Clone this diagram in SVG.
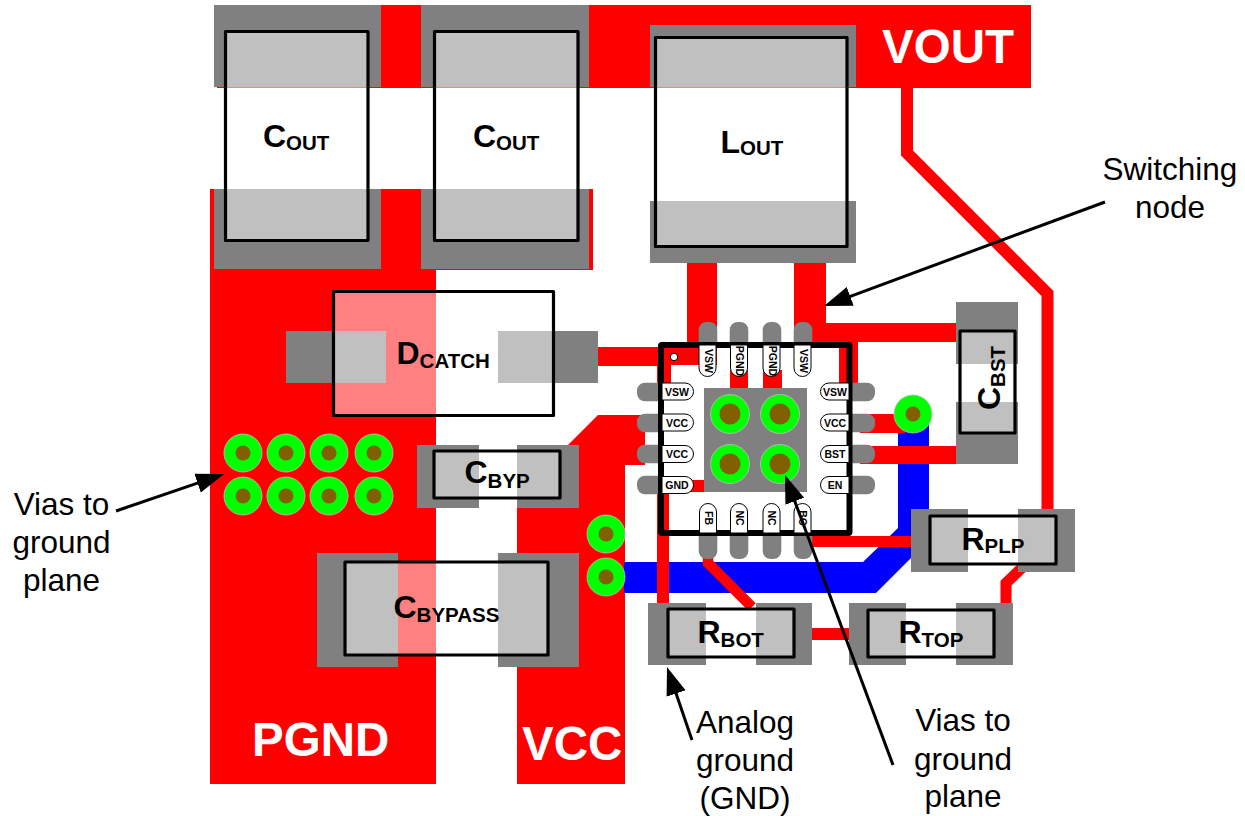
<svg xmlns="http://www.w3.org/2000/svg" width="1245" height="816" viewBox="0 0 1245 816">
<style>
.cu{fill:#f00}
.tr{fill:none;stroke:#f00;stroke-linejoin:miter}
.pad{fill:#808080}
.body{fill:#fff;fill-opacity:.5;stroke:#000;stroke-width:3.2;stroke-linejoin:round}
.lbl{font-family:"Liberation Sans",Arial,sans-serif;font-weight:700;font-size:32px;fill:#000}
.sub{font-size:20.5px}
.net{font-family:"Liberation Sans",Arial,sans-serif;font-weight:700;font-size:47.5px;fill:#fff}
.note{font-family:"Liberation Sans",Arial,sans-serif;font-size:31.5px;fill:#000;text-anchor:middle}
.pin{fill:#808080}
.plab{fill:#fff;stroke:#000;stroke-width:1}
.pt{font-family:"Liberation Sans",Arial,sans-serif;font-weight:700;font-size:10.5px;fill:#000;text-anchor:middle}
.v1{fill:#0f0;stroke:#c0c0c0;stroke-width:.8}
.v2{fill:#806000}
.arrow{stroke:#000;stroke-width:3;fill:none;marker-end:url(#ah)}
</style>
<defs>
<marker id="ah" markerUnits="userSpaceOnUse" markerWidth="30" markerHeight="22" refX="20" refY="11" orient="auto" viewBox="0 0 30 22"><path d="M28 11L0 1V21Z" fill="#000"/></marker>
<g id="via"><circle class="v1" r="19"/><circle class="v2" r="7.5"/></g>
<g id="bigvia"><circle class="v1" r="19.5"/><circle class="v2" r="10.5"/></g>
<path id="pin" class="pin" d="M-9.300 26V8A8 8 0 0 1 -1.300 0H1.300A8 8 0 0 1 9.300 8V26Z"/>
</defs>

<g id="copper">
<rect class="cu" x="217" y="5" width="814" height="83"/>
<rect class="cu" x="210" y="189" width="383" height="81"/>
<rect class="cu" x="210" y="189" width="226" height="595"/>
<path class="cu" d="M517 445H568L598 415H645V465H625V784H517Z"/>
</g>

<g id="connectors">
<path fill="#00f" d="M624 562H863L898 528V414H929V540L876 593H624Z"/>
<path class="cu" d="M687 263H717V365H671V385H657V366H597V347H687Z"/>
<path class="cu" d="M794 263H826V323H956V342H858V385H839V342H794Z"/>
<rect class="cu" x="730" y="370" width="18" height="20"/>
<rect class="cu" x="763" y="370" width="19" height="20"/>
<rect class="cu" x="657" y="480" width="12" height="125"/>
<rect class="cu" x="665" y="480" width="40" height="12"/>
<rect class="cu" x="860" y="414" width="45" height="19"/>
<rect class="cu" x="860" y="446" width="98" height="18"/>
<rect class="cu" x="810" y="536" width="103" height="11"/>
<path class="tr" stroke-width="12" d="M907 88V153L1047.500 293.500V512"/>
<path class="tr" stroke-width="11" d="M1028 562L1006 583V605"/>
<path class="tr" stroke-width="10.500" d="M708 556V563L752 607"/>
<rect class="cu" x="810" y="628" width="42" height="12"/>
</g>

<g id="cout1">
<rect class="pad" x="214" y="5" width="167" height="82"/><rect class="pad" x="214" y="189" width="167" height="80"/>
<rect class="body" x="225.500" y="31.500" width="142.500" height="209"/>
<text class="lbl" x="263" y="147">C<tspan class="sub" dy="3">OUT</tspan></text>
</g>
<g id="cout2">
<rect class="pad" x="421" y="5" width="168" height="82"/><rect class="pad" x="421" y="189" width="168" height="80"/>
<rect class="body" x="434.500" y="31.500" width="143.500" height="209"/>
<text class="lbl" x="473" y="147">C<tspan class="sub" dy="3">OUT</tspan></text>
</g>
<g id="lout">
<rect class="pad" x="650" y="25" width="206" height="62"/><rect class="pad" x="650" y="201" width="206" height="62"/>
<rect class="body" x="655.500" y="37.500" width="191.500" height="209"/>
<text class="lbl" x="720.500" y="153">L<tspan class="sub" dy="2">OUT</tspan></text>
</g>
<g id="dcatch">
<rect class="pad" x="286" y="331" width="100" height="52"/><rect class="pad" x="498" y="331" width="100" height="52"/>
<rect class="body" x="333.500" y="291.500" width="220" height="124"/>
<text class="lbl" x="396.500" y="364">D<tspan class="sub" dy="4">CATCH</tspan></text>
</g>
<g id="cbyp">
<rect class="pad" x="417" y="445" width="62" height="63"/><rect class="pad" x="517" y="445" width="62" height="63"/>
<rect class="body" x="434" y="451" width="126" height="47"/>
<text class="lbl" x="464.500" y="483">C<tspan class="sub" dy="5">BYP</tspan></text>
</g>
<g id="cbypass">
<rect class="pad" x="317" y="553" width="81" height="114"/><rect class="pad" x="498" y="553" width="81" height="114"/>
<rect class="body" x="345" y="562" width="203" height="93"/>
<text class="lbl" x="393.500" y="618">C<tspan class="sub" dy="4">BYPASS</tspan></text>
</g>
<g id="cbst">
<rect class="pad" x="956" y="302" width="62" height="62"/><rect class="pad" x="956" y="402" width="62" height="62"/>
<rect class="body" x="960" y="331" width="55" height="102"/>
<text class="lbl" transform="translate(1000 410) rotate(-90)">C<tspan class="sub" dy="5">BST</tspan></text>
</g>
<g id="rplp">
<rect class="pad" x="911" y="509" width="57" height="63"/><rect class="pad" x="1018" y="509" width="57" height="63"/>
<rect class="body" x="930" y="516" width="126" height="48"/>
<text class="lbl" x="961.500" y="550">R<tspan class="sub" dy="3">PLP</tspan></text>
</g>
<g id="rtop">
<rect class="pad" x="849" y="603" width="57" height="62"/><rect class="pad" x="956" y="603" width="57" height="62"/>
<rect class="body" x="868" y="610" width="126" height="47"/>
<text class="lbl" x="898.500" y="643">R<tspan class="sub" dy="4">TOP</tspan></text>
</g>
<g id="rbot">
<rect class="pad" x="648" y="603" width="58" height="62"/><rect class="pad" x="756" y="603" width="56" height="62"/>
<rect class="body" x="668" y="609" width="126" height="48"/>
<text class="lbl" x="697.500" y="643">R<tspan class="sub" dy="4">BOT</tspan></text>
</g>

<g id="ic">
<use href="#pin" transform="translate(708 322)"/><use href="#pin" transform="translate(739 322)"/><use href="#pin" transform="translate(772 322)"/><use href="#pin" transform="translate(803 322)"/>
<use href="#pin" transform="translate(708 559) rotate(180)"/><use href="#pin" transform="translate(739 559) rotate(180)"/><use href="#pin" transform="translate(772 559) rotate(180)"/><use href="#pin" transform="translate(803 559) rotate(180)"/>
<use href="#pin" transform="translate(637 392) rotate(-90)"/><use href="#pin" transform="translate(637 423) rotate(-90)"/><use href="#pin" transform="translate(637 454) rotate(-90)"/><use href="#pin" transform="translate(637 485) rotate(-90)"/>
<use href="#pin" transform="translate(875 392) rotate(90)"/><use href="#pin" transform="translate(875 423) rotate(90)"/><use href="#pin" transform="translate(875 454) rotate(90)"/><use href="#pin" transform="translate(875 485) rotate(90)"/>
<rect class="pad" x="704" y="388" width="103" height="104"/>
<use href="#bigvia" x="730" y="414"/><use href="#bigvia" x="780" y="414"/><use href="#bigvia" x="730" y="464"/><use href="#bigvia" x="780" y="464"/>
<rect x="661" y="345" width="188.500" height="188" rx="1" fill="none" stroke="#000" stroke-width="6"/>
<circle cx="674" cy="357" r="3.700" fill="#fff" stroke="#000"/>
<path class="plab" d="M699 345V368A8.500 8.500 0 0 0 716 368V345Z"/><text class="pt" transform="translate(704.500 361) rotate(90)">VSW</text>
<path class="plab" d="M730.500 345V368A8.500 8.500 0 0 0 747.500 368V345Z"/><text class="pt" transform="translate(736 361) rotate(90)">PGND</text>
<path class="plab" d="M763 345V368A8.500 8.500 0 0 0 780 368V345Z"/><text class="pt" transform="translate(768.500 361) rotate(90)">PGND</text>
<path class="plab" d="M794 345V368A8.500 8.500 0 0 0 811 368V345Z"/><text class="pt" transform="translate(799.500 361) rotate(90)">VSW</text>
<path class="plab" d="M699.500 533V512A8.500 8.500 0 0 1 716.500 512V533Z"/><text class="pt" transform="translate(704.500 518) rotate(90)">FB</text>
<path class="plab" d="M730.500 533V512A8.500 8.500 0 0 1 747.500 512V533Z"/><text class="pt" transform="translate(735.500 518) rotate(90)">NC</text>
<path class="plab" d="M763 533V512A8.500 8.500 0 0 1 780 512V533Z"/><text class="pt" transform="translate(768 518) rotate(90)">NC</text>
<path class="plab" d="M794 533V512A8.500 8.500 0 0 1 811 512V533Z"/><text class="pt" transform="translate(799 518) rotate(90)">BO</text>
<path class="plab" d="M662 383H685A8.500 8.500 0 0 1 685 400H662Z"/><text class="pt" x="677" y="396">VSW</text>
<path class="plab" d="M662 414H685A8.500 8.500 0 0 1 685 431H662Z"/><text class="pt" x="677" y="427">VCC</text>
<path class="plab" d="M662 445.500H685A8.500 8.500 0 0 1 685 462.500H662Z"/><text class="pt" x="677" y="458">VCC</text>
<path class="plab" d="M662 476.500H685A8.500 8.500 0 0 1 685 493.500H662Z"/><text class="pt" x="677" y="489">GND</text>
<path class="plab" d="M849 383H829A8.500 8.500 0 0 0 829 400H849Z"/><text class="pt" x="835" y="396">VSW</text>
<path class="plab" d="M849 414H829A8.500 8.500 0 0 0 829 431H849Z"/><text class="pt" x="835" y="427">VCC</text>
<path class="plab" d="M849 445.500H829A8.500 8.500 0 0 0 829 462.500H849Z"/><text class="pt" x="835" y="458">BST</text>
<path class="plab" d="M849 476.500H829A8.500 8.500 0 0 0 829 493.500H849Z"/><text class="pt" x="835" y="489">EN</text>
</g>

<g id="vias-pgnd">
<use href="#via" x="243" y="453"/><use href="#via" x="286" y="453"/><use href="#via" x="329" y="453"/><use href="#via" x="374" y="453"/>
<use href="#via" x="243" y="496"/><use href="#via" x="286" y="496"/><use href="#via" x="329" y="496"/><use href="#via" x="374" y="496"/>
</g>
<g id="vias-vcc"><use href="#via" x="606" y="534"/><use href="#via" x="606" y="577"/></g>
<g id="via-right"><use href="#via" x="913" y="414"/></g>

<g id="net-labels">
<text class="net" x="882" y="63">VOUT</text>
<text class="net" x="252" y="756">PGND</text>
<text class="net" x="522" y="760">VCC</text>
</g>

<g id="callouts">
<path class="arrow" d="M1105 202L831.500 303.300"/>
<path class="arrow" d="M893 765L787.800 482.500"/>
<path class="arrow" d="M692 740L669.600 674.600"/>
<path class="arrow" d="M116 511L216.500 476.700"/>
</g>

<g id="notes">
<text class="note" x="1170" y="180">Switching</text><text class="note" x="1170" y="218">node</text>
<text class="note" x="61.500" y="515">Vias to</text><text class="note" x="61.500" y="553">ground</text><text class="note" x="61.500" y="591">plane</text>
<text class="note" x="745" y="733">Analog</text><text class="note" x="745" y="771">ground</text><text class="note" x="745" y="809">(GND)</text>
<text class="note" x="963" y="731">Vias to</text><text class="note" x="963" y="770">ground</text><text class="note" x="963" y="807">plane</text>
</g>
</svg>
